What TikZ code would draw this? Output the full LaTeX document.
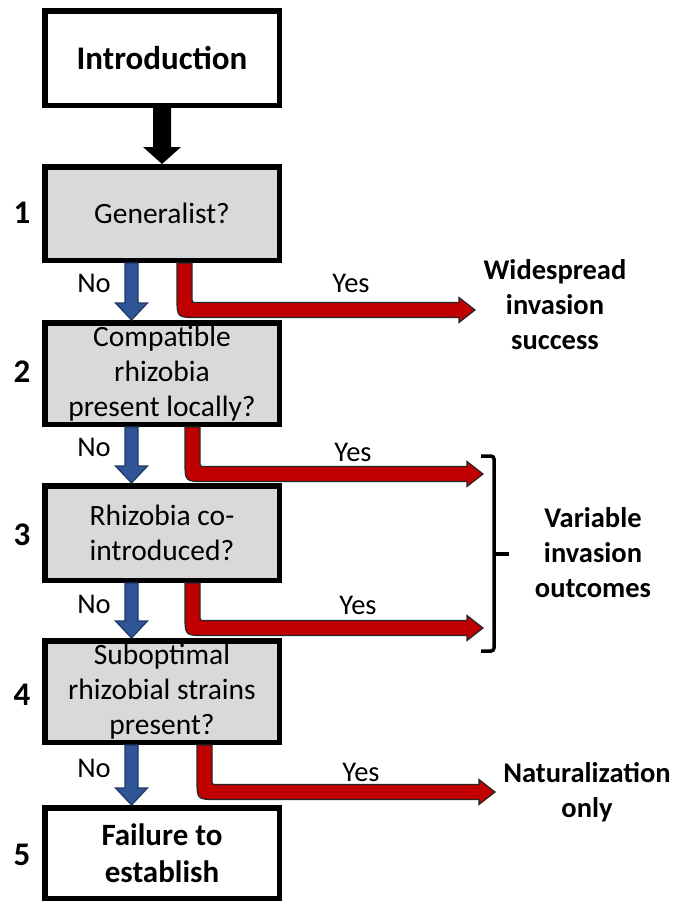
\documentclass[tikz,border=0pt]{standalone}
\usepackage{fontspec}
\setmainfont{Carlito}
\usetikzlibrary{calc}
\definecolor{boxgray}{HTML}{D9D9D9}
\definecolor{yesred}{HTML}{C00000}
\definecolor{noblue}{HTML}{2F5597}
\definecolor{noblueline}{HTML}{1F3864}
\tikzset{
  box/.style={draw=black, line width=5.5pt, align=center, inner sep=0pt,
    minimum width=234.5pt, font=\fontsize{29.5}{35}\selectfont},
  qbox/.style={box, fill=boxgray},
  endbox/.style={box, fill=white, font=\bfseries\fontsize{31}{37}\selectfont},
  numlabel/.style={font=\bfseries\fontsize{33}{35}\selectfont, inner sep=0pt},
  outcome/.style={align=center, inner sep=0pt, font=\bfseries\fontsize{28.5}{35}\selectfont},
  yn/.style={inner sep=0pt, font=\fontsize{28.5}{33}\selectfont},
  bracestyle/.style={draw=black, line width=3.5pt, rounded corners=3pt},
}
\newcommand{\bluedown}[2]{%
  \filldraw[fill=noblue, draw=noblueline, line width=1.2pt]
    let \p1=(#1), \p2=(#2) in
    (\x1-6.5pt,\y1) -- (\x1-6.5pt,\y2+17pt) -- (\x1-16pt,\y2+17pt) -- (\x1,\y2)
    -- (\x1+16pt,\y2+17pt) -- (\x1+6.5pt,\y2+17pt) -- (\x1+6.5pt,\y1) -- cycle;}
\newcommand{\blackdown}[2]{%
  \fill[black]
    let \p1=(#1), \p2=(#2) in
    (\x1-9pt,\y1) -- (\x1-9pt,\y2+17pt) -- (\x1-19pt,\y2+17pt) -- (\x1,\y2)
    -- (\x1+19pt,\y2+17pt) -- (\x1+9pt,\y2+17pt) -- (\x1+9pt,\y1) -- cycle;}
\newcommand{\redturn}[2]{%
  \filldraw[fill=yesred, draw=black!85, line width=1.2pt]
    let \p1=(#1), \p2=(#2) in
    (\x1-7.5pt,\y1) -- (\x1-7.5pt,\y2+12.5pt)
    .. controls (\x1-7.5pt,\y2-7.5pt) .. (\x1+12.5pt,\y2-7.5pt)
    -- (\x2-16pt,\y2-7.5pt) -- (\x2-16pt,\y2-12.5pt) -- (\x2,\y2)
    -- (\x2-16pt,\y2+12.5pt) -- (\x2-16pt,\y2+7.5pt) -- (\x1+12.5pt,\y2+7.5pt)
    .. controls (\x1+7.5pt,\y2+7.5pt) .. (\x1+7.5pt,\y2+12.5pt)
    -- (\x1+7.5pt,\y1) -- cycle;}
\begin{document}
\begin{tikzpicture}[x=1pt,y=-1pt]
\useasboundingbox (0,0) rectangle (676,903);

% boxes
\node[endbox, minimum height=94.5pt, font=\bfseries\fontsize{33}{37}\selectfont] (intro) at (162,58) {Introduction};
\node[qbox, minimum height=93.5pt] (b1) at (162,213.5) {Generalist?};
\node[qbox, minimum height=101.5pt] (b2) at (162,373.5) {Compatible\\rhizobia\\present locally?};
\node[qbox, minimum height=94.5pt] (b3) at (162,533) {Rhizobia co-\\introduced?};
\node[qbox, minimum height=101.5pt] (b4) at (162,691.5) {Suboptimal\\rhizobial strains\\present?};
\node[endbox, minimum height=90.5pt] (b5) at (162,853) {Failure to\\establish};

% step numbers
\node[numlabel] (n1) at (22,213) {1};
\node[numlabel] (n2) at (22,372) {2};
\node[numlabel] (n3) at (22,535) {3};
\node[numlabel] (n4) at (22,695) {4};
\node[numlabel] (n5) at (22,855) {5};

% outcomes
\node[outcome] (o1) at (555,305) {Widespread\\invasion\\success};
\node[outcome] (o2) at (593,553) {Variable\\invasion\\outcomes};
\node[outcome] (o3) at (587,792) {Naturalization\\only};

% black arrow
\blackdown{intro.south}{b1.north}

% blue "No" arrows
\coordinate (s1) at ($(b1.south)+(-30.5,0)$);
\coordinate (s2) at ($(b2.south)+(-30.5,0)$);
\coordinate (s3) at ($(b3.south)+(-30.5,0)$);
\coordinate (s4) at ($(b4.south)+(-30.5,0)$);
\bluedown{s1}{b2.north -| s1}
\bluedown{s2}{b3.north -| s2}
\bluedown{s3}{b4.north -| s3}
\bluedown{s4}{b5.north -| s4}

% red "Yes" arrows
\coordinate (r1) at ($(b1.south)+(22.5,0)$);
\coordinate (r2) at ($(b2.south)+(30.5,0)$);
\coordinate (r3) at ($(b3.south)+(30.5,0)$);
\coordinate (r4) at ($(b4.south)+(42.5,0)$);
\coordinate (t1) at (475,310);
\coordinate (t2) at (483,474);
\coordinate (t3) at (483,628);
\coordinate (t4) at (495,792);
\redturn{r1}{t1}
\redturn{r2}{t2}
\redturn{r3}{t3}
\redturn{r4}{t4}

% brace
\draw[bracestyle] (481,456) -- (494,456) -- (494,651) -- (481,651);
\draw[draw=black, line width=3.5pt] (494,554) -- (509,554);

% labels
\node[yn] (no1) at (94,283) {No};
\node[yn] (no2) at (94,447) {No};
\node[yn] (no3) at (94,604) {No};
\node[yn] (no4) at (94,768) {No};
\node[yn] (y1) at (351,283) {Yes};
\node[yn] (y2) at (353,452) {Yes};
\node[yn] (y3) at (358,605) {Yes};
\node[yn] (y4) at (361,772) {Yes};
\end{tikzpicture}
\end{document}
